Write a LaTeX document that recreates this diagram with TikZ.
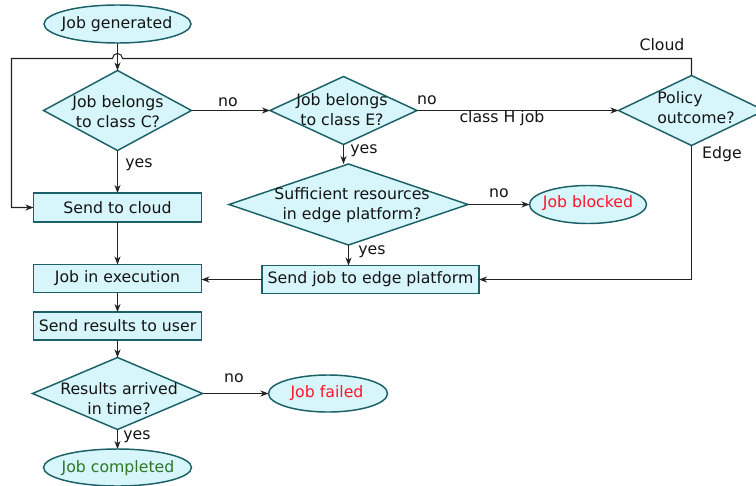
\documentclass[tikz,border=0pt]{standalone}
\usepackage{fontspec}
\setmainfont{DejaVu Sans}
\usetikzlibrary{shapes.geometric,arrows.meta}
\definecolor{boxfill}{RGB}{214,246,251}
\definecolor{boxline}{RGB}{28,96,104}
\definecolor{linec}{RGB}{35,35,35}
\definecolor{txtred}{RGB}{255,20,40}
\definecolor{txtgreen}{RGB}{45,120,40}
\definecolor{txtc}{RGB}{20,20,20}
\begin{document}
\begin{tikzpicture}[x=0.75pt,y=-0.75pt,
  font=\fontsize{11.8}{15}\selectfont, text=txtc,
  shp/.style={draw=boxline,fill=boxfill,line width=1.1pt,inner sep=0pt,outer sep=0pt},
  box/.style={shp,rectangle},
  dia/.style={shp,diamond},
  oval/.style={shp,ellipse},
  txt/.style={align=center,inner sep=0pt},
  conn/.style={draw=linec,line width=0.8pt,-{Stealth[length=6pt,width=4.5pt,inset=1.8pt]}},
  lbl/.style={inner sep=0pt}]
\useasboundingbox (0,0) rectangle (756,485);

% nodes
\node[oval,minimum width=110.25pt,minimum height=28.5pt] (jg) at (117.5,24) {};
\node[txt] (jgt) at (117,24) {Job generated};

\node[dia,minimum width=111pt,minimum height=60pt] (c) at (117.5,110.5) {};
\node[txt] (ct) at (118,112) {Job belongs\\to class C?};

\node[dia,minimum width=110.25pt,minimum height=51pt] (e) at (343.5,110.5) {};
\node[txt] (et) at (342,110) {Job belongs\\to class E?};

\node[dia,minimum width=109.5pt,minimum height=52.5pt] (p) at (691.5,110.5) {};
\node[txt,align=left] (pt) at (696,108) {Policy\\outcome?};

\node[box,minimum width=126pt,minimum height=21.75pt] (sc) at (117.5,207.5) {Send to cloud};

\node[dia,minimum width=179.25pt,minimum height=60.75pt] (s) at (348.5,204.5) {};
\node[txt] (st) at (352,205) {Sufficient resources\\in edge platform?};

\node[oval,minimum width=87.75pt,minimum height=28.5pt] (jb) at (588,204.5) {};
\node[txt,text=txtred] (jbt) at (588,203) {Job blocked};

\node[box,minimum width=162.75pt,minimum height=21pt] (se) at (370.5,279.5) {Send job to edge platform};

\node[box,minimum width=126pt,minimum height=21pt] (je) at (117.5,278.5) {Job in execution};

\node[box,minimum width=126pt,minimum height=21pt] (sr) at (117.5,326) {Send results to user};

\node[dia,minimum width=127.5pt,minimum height=54pt] (r) at (117.5,393.5) {};
\node[txt] (rt) at (119,399) {Results arrived\\in time?};

\node[oval,minimum width=89.25pt,minimum height=27.75pt] (jf) at (328,393.5) {};
\node[txt,text=txtred] (jft) at (327,393) {Job failed};

\node[oval,minimum width=111pt,minimum height=27.75pt] (jc) at (117.5,467.5) {};
\node[txt,text=txtgreen] (jct) at (118,468) {Job completed};

% coordinates for loop
\coordinate (lt) at (11.5,58.5);
\coordinate (hr) at (122.5,58.5);

% connectors
\draw[conn] (jg.south) -- (jg.south |- c.north);
\draw[conn] (p.north) |- (hr) arc[start angle=0,end angle=180,radius=3.75pt] -- (lt) |- (sc.west);
\draw[conn] (c.east) -- (e.west);
\draw[conn] (e.east) -- (p.west);
\draw[conn] (c.south) -- (c.south |- sc.north);
\draw[conn] (e.south) -- (e.south |- s.north);
\draw[conn] (s.east) -- (jb.west);
\draw[conn] (s.south) -- (s.south |- se.north);
\draw[conn] (p.south) |- (se.east);
\draw[conn] (se.west) -- (se.west -| je.east);
\draw[conn] (sc.south) -- (sc.south |- je.north);
\draw[conn] (je.south) -- (je.south |- sr.north);
\draw[conn] (sr.south) -- (sr.south |- r.north);
\draw[conn] (r.east) -- (jf.west);
\draw[conn] (r.south) -- (r.south |- jc.north);

% labels
\node[lbl] (l1) at (228,102) {no};
\node[lbl] (l2) at (139,165) {yes};
\node[lbl] (l3) at (427,100) {no};
\node[lbl] (l4) at (502,118) {class H job};
\node[lbl] (l5) at (662,45) {Cloud};
\node[lbl] (l6) at (722,154) {Edge};
\node[lbl] (l7) at (364,151) {yes};
\node[lbl] (l8) at (499,193) {no};
\node[lbl] (l9) at (372,252) {yes};
\node[lbl] (l10) at (234,378) {no};
\node[lbl] (l11) at (137,437) {yes};
\end{tikzpicture}
\end{document}
